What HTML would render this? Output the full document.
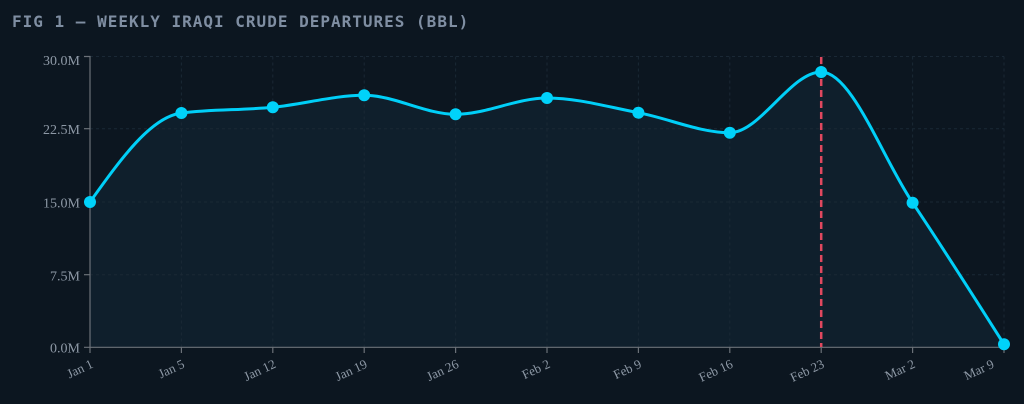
<!DOCTYPE html>
<html>
<head>
<meta charset="utf-8">
<style>
  html,body{margin:0;padding:0;background:#0c1620;}
  body{width:1024px;height:404px;overflow:hidden;}
  svg{display:block;}
  .title{font-family:"DejaVu Sans Mono","Liberation Mono",monospace;font-weight:bold;font-size:16px;letter-spacing:1px;fill:#7f8ea2;}
  .yl{font-family:"Liberation Serif",serif;font-size:14px;fill:#8e99a6;text-anchor:end;}
  .xl{font-family:"Liberation Serif",serif;font-size:13px;fill:#8e99a6;text-anchor:end;}
</style>
</head>
<body>
<svg width="1024" height="404" viewBox="0 0 1024 404" xmlns="http://www.w3.org/2000/svg">
  <rect x="0" y="0" width="1024" height="404" fill="#0c1620"/>
  <text class="title" x="12" y="27">FIG 1 — WEEKLY IRAQI CRUDE DEPARTURES (BBL)</text>

  <!-- area fill -->
  <path fill="#0f1f2c" d="M90,202 C120.47,159.4 150.93,116.8 181.4,113 C211.87,109.2 242.33,110.25 272.8,107.3 C303.27,104.35 333.73,95.3 364.2,95.3 C394.67,95.3 425.13,114.3 455.6,114.3 C486.07,114.3 516.53,98 547,98 C577.47,98 607.93,106.92 638.4,112.7 C668.87,118.48 699.33,132.7 729.8,132.7 C760.27,132.7 790.73,72 821.2,72 C851.67,72 882.13,157.32 912.6,202.7 C943.07,248.08 973.53,296.19 1004,344.3 L1004,347.3 L90,347.3 Z"/>

  <!-- grid -->
  <g stroke="#1a2835" stroke-width="1" stroke-dasharray="3,3" fill="none">
    <line x1="90" y1="56.5" x2="1004" y2="56.5"/>
    <line x1="90" y1="128.7" x2="1004" y2="128.7"/>
    <line x1="90" y1="202" x2="1004" y2="202"/>
    <line x1="90" y1="274.7" x2="1004" y2="274.7"/>
    <line x1="181.4" y1="56.5" x2="181.4" y2="347"/>
    <line x1="272.8" y1="56.5" x2="272.8" y2="347"/>
    <line x1="364.2" y1="56.5" x2="364.2" y2="347"/>
    <line x1="455.6" y1="56.5" x2="455.6" y2="347"/>
    <line x1="547" y1="56.5" x2="547" y2="347"/>
    <line x1="638.4" y1="56.5" x2="638.4" y2="347"/>
    <line x1="729.8" y1="56.5" x2="729.8" y2="347"/>
    <line x1="821.2" y1="56.5" x2="821.2" y2="347"/>
    <line x1="912.6" y1="56.5" x2="912.6" y2="347"/>
    <line x1="1004" y1="56.5" x2="1004" y2="347"/>
  </g>

  <!-- axes -->
  <g stroke="#6b7178" stroke-width="1.2" fill="none">
    <path d="M84,56.5 H90 V347.3 H84"/>
    <line x1="84" y1="128.7" x2="90" y2="128.7"/>
    <line x1="84" y1="202" x2="90" y2="202"/>
    <line x1="84" y1="274.7" x2="90" y2="274.7"/>
    <path d="M90,353 V347.3 H1004 V353"/>
    <line x1="181.4" y1="347.3" x2="181.4" y2="353"/>
    <line x1="272.8" y1="347.3" x2="272.8" y2="353"/>
    <line x1="364.2" y1="347.3" x2="364.2" y2="353"/>
    <line x1="455.6" y1="347.3" x2="455.6" y2="353"/>
    <line x1="547" y1="347.3" x2="547" y2="353"/>
    <line x1="638.4" y1="347.3" x2="638.4" y2="353"/>
    <line x1="729.8" y1="347.3" x2="729.8" y2="353"/>
    <line x1="821.2" y1="347.3" x2="821.2" y2="353"/>
    <line x1="912.6" y1="347.3" x2="912.6" y2="353"/>
  </g>

  <!-- y labels -->
  <text class="yl" x="80" y="65">30.0M</text>
  <text class="yl" x="80" y="134.2">22.5M</text>
  <text class="yl" x="80" y="207.4">15.0M</text>
  <text class="yl" x="80" y="280.4">7.5M</text>
  <text class="yl" x="80" y="352.7">0.0M</text>

  <!-- x labels -->
  <text class="xl" transform="translate(94,367) rotate(-25)">Jan 1</text>
  <text class="xl" transform="translate(185.4,367) rotate(-25)">Jan 5</text>
  <text class="xl" transform="translate(276.8,367) rotate(-25)">Jan 12</text>
  <text class="xl" transform="translate(368.2,367) rotate(-25)">Jan 19</text>
  <text class="xl" transform="translate(459.6,367) rotate(-25)">Jan 26</text>
  <text class="xl" transform="translate(551,367) rotate(-25)">Feb 2</text>
  <text class="xl" transform="translate(642.4,367) rotate(-25)">Feb 9</text>
  <text class="xl" transform="translate(733.8,367) rotate(-25)">Feb 16</text>
  <text class="xl" transform="translate(825.2,367) rotate(-25)">Feb 23</text>
  <text class="xl" transform="translate(916,367) rotate(-25)">Mar 2</text>
  <text class="xl" transform="translate(995,367) rotate(-25)">Mar 9</text>

  <!-- red event line -->
  <line x1="821.2" y1="57" x2="821.2" y2="347" stroke="#e0485f" stroke-width="2.5" stroke-dasharray="7,4"/>

  <!-- series line -->
  <path fill="none" stroke="#00cff8" stroke-width="3" stroke-linejoin="round" stroke-linecap="round" d="M90,202 C120.47,159.4 150.93,116.8 181.4,113 C211.87,109.2 242.33,110.25 272.8,107.3 C303.27,104.35 333.73,95.3 364.2,95.3 C394.67,95.3 425.13,114.3 455.6,114.3 C486.07,114.3 516.53,98 547,98 C577.47,98 607.93,106.92 638.4,112.7 C668.87,118.48 699.33,132.7 729.8,132.7 C760.27,132.7 790.73,72 821.2,72 C851.67,72 882.13,157.32 912.6,202.7 C943.07,248.08 973.53,296.19 1004,344.3"/>

  <!-- points -->
  <g fill="#00d2fa">
    <circle cx="90" cy="202" r="6"/>
    <circle cx="181.4" cy="113" r="6"/>
    <circle cx="272.8" cy="107.3" r="6"/>
    <circle cx="364.2" cy="95.3" r="6"/>
    <circle cx="455.6" cy="114.3" r="6"/>
    <circle cx="547" cy="98" r="6"/>
    <circle cx="638.4" cy="112.7" r="6"/>
    <circle cx="729.8" cy="132.7" r="6"/>
    <circle cx="821.2" cy="72" r="6"/>
    <circle cx="912.6" cy="202.7" r="6"/>
    <circle cx="1004" cy="344.3" r="6"/>
  </g>
</svg>
</body>
</html>
